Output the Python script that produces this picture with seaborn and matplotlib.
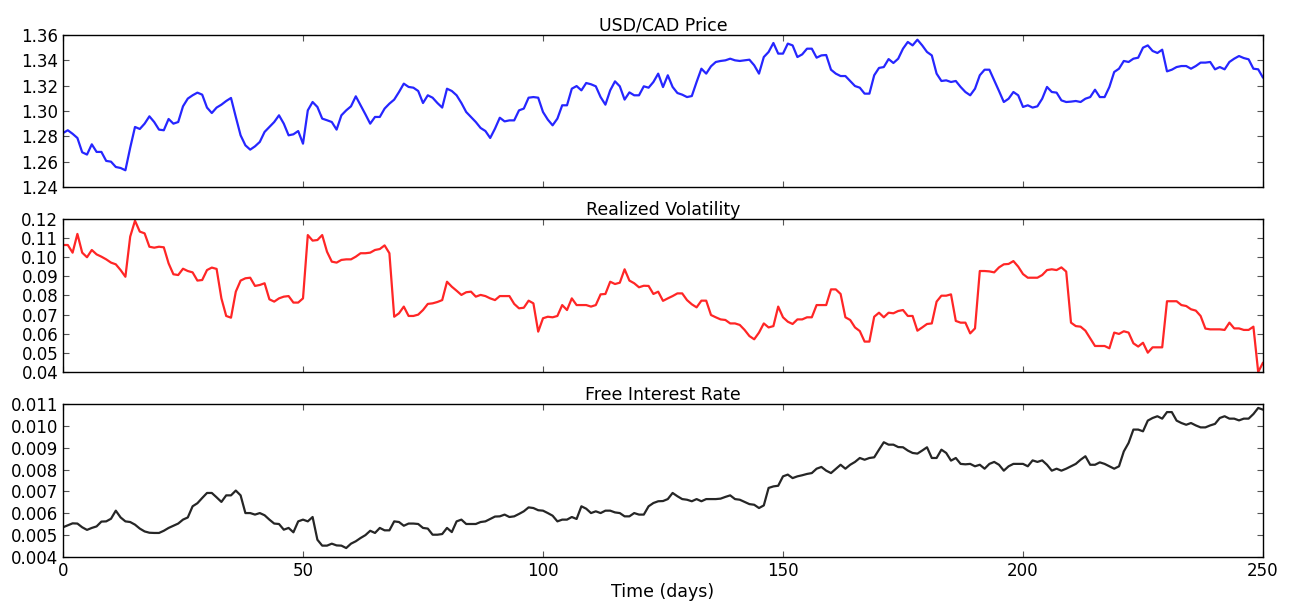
import numpy as np
import pandas as pd
import matplotlib
matplotlib.use("Agg")
import matplotlib.pyplot as plt
import seaborn as sns
from matplotlib.ticker import FormatStrFormatter

# --- Data (one value per day, days 0..250) ---
days = list(range(251))

usd_cad_price = [
    1.2826, 1.2848, 1.2820, 1.2787, 1.2674, 1.2656, 1.2737, 1.2677, 1.2677, 1.2606,
    1.2600, 1.2558, 1.2550, 1.2532, 1.2710, 1.2874, 1.2858, 1.2900, 1.2958, 1.2913,
    1.2853, 1.2848, 1.2937, 1.2900, 1.2913, 1.3037, 1.3098, 1.3124, 1.3145, 1.3129,
    1.3027, 1.2984, 1.3027, 1.3050, 1.3079, 1.3103, 1.2953, 1.2808, 1.2729, 1.2695,
    1.2721, 1.2756, 1.2835, 1.2874, 1.2913, 1.2966, 1.2900, 1.2808, 1.2816, 1.2842,
    1.2742, 1.3005, 1.3071, 1.3032, 1.2940, 1.2927, 1.2913, 1.2853, 1.2966, 1.3005,
    1.3037, 1.3116, 1.3045, 1.2974, 1.2900, 1.2953, 1.2953, 1.3019, 1.3058, 1.3090,
    1.3150, 1.3216, 1.3190, 1.3184, 1.3158, 1.3063, 1.3124, 1.3105, 1.3063, 1.3027,
    1.3176, 1.3158, 1.3124, 1.3063, 1.2992, 1.2953, 1.2913, 1.2866, 1.2842, 1.2787,
    1.2861, 1.2947, 1.2918, 1.2926, 1.2926, 1.3005, 1.3019, 1.3105, 1.3110, 1.3105,
    1.2992, 1.2932, 1.2887, 1.2940, 1.3045, 1.3045, 1.3176, 1.3197, 1.3163, 1.3221,
    1.3211, 1.3195, 1.3110, 1.3050, 1.3163, 1.3234, 1.3195, 1.3090, 1.3147, 1.3124,
    1.3124, 1.3195, 1.3184, 1.3229, 1.3295, 1.3189, 1.3282, 1.3190, 1.3142, 1.3129,
    1.3110, 1.3118, 1.3229, 1.3334, 1.3295, 1.3353, 1.3387, 1.3395, 1.3400, 1.3413,
    1.3400, 1.3395, 1.3400, 1.3405, 1.3361, 1.3295, 1.3426, 1.3466, 1.3537, 1.3453,
    1.3453, 1.3532, 1.3518, 1.3426, 1.3447, 1.3492, 1.3492, 1.3421, 1.3439, 1.3442,
    1.3326, 1.3295, 1.3276, 1.3276, 1.3237, 1.3197, 1.3184, 1.3137, 1.3137, 1.3282,
    1.3340, 1.3347, 1.3410, 1.3379, 1.3413, 1.3492, 1.3545, 1.3518, 1.3563, 1.3518,
    1.3466, 1.3439, 1.3295, 1.3237, 1.3242, 1.3229, 1.3237, 1.3190, 1.3150, 1.3124,
    1.3176, 1.3282, 1.3326, 1.3326, 1.3242, 1.3158, 1.3071, 1.3097, 1.3150, 1.3124,
    1.3032, 1.3045, 1.3027, 1.3037, 1.3097, 1.3190, 1.3150, 1.3145, 1.3084, 1.3071,
    1.3074, 1.3079, 1.3071, 1.3097, 1.3110, 1.3168, 1.3110, 1.3110, 1.3190, 1.3308,
    1.3334, 1.3395, 1.3387, 1.3413, 1.3421, 1.3500, 1.3518, 1.3474, 1.3458, 1.3484,
    1.3313, 1.3326, 1.3347, 1.3355, 1.3355, 1.3334, 1.3355, 1.3382, 1.3382, 1.3387,
    1.3329, 1.3347, 1.3329, 1.3387, 1.3413, 1.3434, 1.3418, 1.3408, 1.3334, 1.3329,
    1.3263,
]

realized_vol = [
    0.1064, 0.1064, 0.1024, 0.1122, 0.1024, 0.1000, 0.1038, 0.1015, 0.1003, 0.0989,
    0.0972, 0.0963, 0.0933, 0.0898, 0.1108, 0.1191, 0.1134, 0.1125, 0.1055, 0.1050,
    0.1055, 0.1052, 0.0968, 0.0911, 0.0907, 0.0940, 0.0928, 0.0921, 0.0878, 0.0881,
    0.0933, 0.0946, 0.0939, 0.0785, 0.0693, 0.0684, 0.0820, 0.0878, 0.0890, 0.0893,
    0.0850, 0.0855, 0.0864, 0.0780, 0.0768, 0.0785, 0.0794, 0.0797, 0.0763, 0.0763,
    0.0785, 0.1116, 0.1087, 0.1090, 0.1116, 0.1029, 0.0977, 0.0972, 0.0986, 0.0989,
    0.0989, 0.1003, 0.1021, 0.1021, 0.1024, 0.1038, 0.1043, 0.1062, 0.1021, 0.0689,
    0.0707, 0.0742, 0.0693, 0.0693, 0.0700, 0.0724, 0.0756, 0.0759, 0.0766, 0.0776,
    0.0872, 0.0846, 0.0825, 0.0803, 0.0817, 0.0820, 0.0794, 0.0803, 0.0797, 0.0785,
    0.0776, 0.0797, 0.0797, 0.0797, 0.0756, 0.0733, 0.0736, 0.0773, 0.0759, 0.0611,
    0.0681, 0.0689, 0.0686, 0.0693, 0.0750, 0.0724, 0.0785, 0.0750, 0.0750, 0.0750,
    0.0742, 0.0750, 0.0806, 0.0808, 0.0872, 0.0860, 0.0867, 0.0937, 0.0878, 0.0864,
    0.0843, 0.0851, 0.0850, 0.0808, 0.0820, 0.0772, 0.0785, 0.0797, 0.0811, 0.0811,
    0.0776, 0.0754, 0.0738, 0.0773, 0.0773, 0.0698, 0.0686, 0.0675, 0.0672, 0.0654,
    0.0654, 0.0646, 0.0620, 0.0588, 0.0571, 0.0606, 0.0654, 0.0633, 0.0640, 0.0742,
    0.0686, 0.0663, 0.0651, 0.0675, 0.0675, 0.0686, 0.0686, 0.0750, 0.0750, 0.0750,
    0.0832, 0.0832, 0.0808, 0.0686, 0.0672, 0.0633, 0.0614, 0.0559, 0.0559, 0.0689,
    0.0710, 0.0686, 0.0710, 0.0707, 0.0719, 0.0724, 0.0693, 0.0693, 0.0616, 0.0633,
    0.0651, 0.0654, 0.0768, 0.0799, 0.0799, 0.0806, 0.0667, 0.0658, 0.0658, 0.0602,
    0.0628, 0.0928, 0.0928, 0.0926, 0.0921, 0.0947, 0.0963, 0.0965, 0.0980, 0.0951,
    0.0912, 0.0893, 0.0893, 0.0893, 0.0907, 0.0933, 0.0937, 0.0933, 0.0947, 0.0925,
    0.0658, 0.0640, 0.0637, 0.0616, 0.0576, 0.0536, 0.0536, 0.0536, 0.0524, 0.0606,
    0.0599, 0.0613, 0.0606, 0.0550, 0.0533, 0.0553, 0.0501, 0.0529, 0.0529, 0.0529,
    0.0770, 0.0770, 0.0770, 0.0750, 0.0745, 0.0728, 0.0721, 0.0693, 0.0627, 0.0623,
    0.0623, 0.0623, 0.0620, 0.0658, 0.0628, 0.0628, 0.0620, 0.0620, 0.0637, 0.0400,
    0.0449,
]

interest_rate = [
    0.00536, 0.00545, 0.00554, 0.00553, 0.00536, 0.00524, 0.00533, 0.00540, 0.00562, 0.00563,
    0.00575, 0.00612, 0.00581, 0.00563, 0.00560, 0.00548, 0.00530, 0.00517, 0.00511, 0.00510,
    0.00510, 0.00520, 0.00533, 0.00543, 0.00553, 0.00571, 0.00581, 0.00632, 0.00646, 0.00670,
    0.00693, 0.00693, 0.00673, 0.00652, 0.00682, 0.00682, 0.00704, 0.00682, 0.00601, 0.00601,
    0.00594, 0.00601, 0.00591, 0.00571, 0.00553, 0.00551, 0.00525, 0.00533, 0.00513, 0.00563,
    0.00571, 0.00563, 0.00583, 0.00479, 0.00452, 0.00452, 0.00461, 0.00453, 0.00452, 0.00441,
    0.00461, 0.00472, 0.00487, 0.00500, 0.00520, 0.00510, 0.00533, 0.00522, 0.00522, 0.00563,
    0.00560, 0.00543, 0.00553, 0.00553, 0.00551, 0.00533, 0.00530, 0.00502, 0.00502, 0.00505,
    0.00533, 0.00514, 0.00563, 0.00571, 0.00551, 0.00551, 0.00551, 0.00560, 0.00563, 0.00574,
    0.00585, 0.00586, 0.00594, 0.00583, 0.00586, 0.00597, 0.00609, 0.00627, 0.00624, 0.00614,
    0.00612, 0.00601, 0.00589, 0.00563, 0.00571, 0.00571, 0.00583, 0.00574, 0.00632, 0.00621,
    0.00601, 0.00609, 0.00601, 0.00612, 0.00612, 0.00604, 0.00601, 0.00586, 0.00586, 0.00601,
    0.00594, 0.00594, 0.00632, 0.00647, 0.00655, 0.00656, 0.00665, 0.00693, 0.00678, 0.00665,
    0.00662, 0.00655, 0.00665, 0.00655, 0.00665, 0.00665, 0.00665, 0.00667, 0.00675, 0.00682,
    0.00665, 0.00662, 0.00652, 0.00642, 0.00639, 0.00624, 0.00636, 0.00716, 0.00723, 0.00726,
    0.00769, 0.00777, 0.00761, 0.00769, 0.00774, 0.00780, 0.00784, 0.00804, 0.00812, 0.00795,
    0.00784, 0.00803, 0.00822, 0.00804, 0.00822, 0.00835, 0.00853, 0.00845, 0.00853, 0.00856,
    0.00891, 0.00925, 0.00914, 0.00914, 0.00903, 0.00902, 0.00887, 0.00876, 0.00873, 0.00887,
    0.00902, 0.00853, 0.00853, 0.00891, 0.00876, 0.00841, 0.00853, 0.00826, 0.00824, 0.00826,
    0.00815, 0.00822, 0.00804, 0.00826, 0.00835, 0.00822, 0.00795, 0.00815, 0.00826, 0.00826,
    0.00826, 0.00815, 0.00842, 0.00835, 0.00842, 0.00822, 0.00795, 0.00804, 0.00795, 0.00804,
    0.00815, 0.00826, 0.00845, 0.00861, 0.00822, 0.00822, 0.00833, 0.00826, 0.00815, 0.00804,
    0.00815, 0.00883, 0.00922, 0.00983, 0.00983, 0.00975, 0.01024, 0.01036, 0.01044, 0.01033,
    0.01063, 0.01063, 0.01024, 0.01013, 0.01005, 0.01013, 0.01002, 0.00993, 0.00993, 0.01002,
    0.01009, 0.01036, 0.01044, 0.01033, 0.01033, 0.01025, 0.01033, 0.01033, 0.01054, 0.01082,
    0.01074,
]

titles = ['USD/CAD Price', 'Realized Volatility', 'Free Interest Rate']
series = [usd_cad_price, realized_vol, interest_rate]
colors = ['#0000ff', '#ff0000', '#000000']
ylims = [(1.24, 1.36), (0.04, 0.12), (0.004, 0.011)]
ysteps = [0.02, 0.01, 0.001]
yfmts = ['%.2f', '%.2f', '%.3f']
x_ticks = [0, 50, 100, 150, 200, 250]

# --- Style ---
sns.set_style("ticks")
plt.rcParams['font.family'] = ['DejaVu Sans']
plt.rcParams['xtick.direction'] = 'in'
plt.rcParams['ytick.direction'] = 'in'
plt.rcParams['text.color'] = 'black'
plt.rcParams['axes.labelcolor'] = 'black'
plt.rcParams['xtick.labelcolor'] = 'black'
plt.rcParams['ytick.labelcolor'] = 'black'

fig = plt.figure(figsize=(12.9, 6.05), dpi=100)
left, width = 63 / 1290, 1200 / 1290
panels = [(35, 187), (219, 372), (404, 557)]

for i, (top, bottom) in enumerate(panels):
    ax = fig.add_axes([left, 1 - bottom / 605, width, (bottom - top) / 605])
    df = pd.DataFrame({'day': days, 'value': series[i]})
    sns.lineplot(data=df, x='day', y='value', ax=ax, color=colors[i],
                 linewidth=1.6, alpha=0.85)
    ax.set_xlim(0, 250)
    lo, hi = ylims[i]
    ax.set_ylim(lo, hi)
    ax.set_yticks(np.round(np.arange(lo, hi + ysteps[i] / 2, ysteps[i]), 4))
    ax.yaxis.set_major_formatter(FormatStrFormatter(yfmts[i]))
    ax.set_xticks(x_ticks)
    ax.tick_params(axis='both', which='both', top=True, right=True,
                   labelsize=12, length=4, width=0.8, color='#555555',
                   labelcolor='black')
    for spine in ax.spines.values():
        spine.set_visible(True)
        spine.set_linewidth(1.0)
        spine.set_color('black')
    ax.set_title(titles[i], fontsize=12.5, pad=3, color='black')
    ax.set_ylabel('')
    if i < 2:
        ax.set_xticklabels([])
        ax.set_xlabel('')
    else:
        ax.set_xlabel('Time (days)', fontsize=12.5, labelpad=2, color='black')

fig.savefig('out.png', dpi=100, facecolor='white')
